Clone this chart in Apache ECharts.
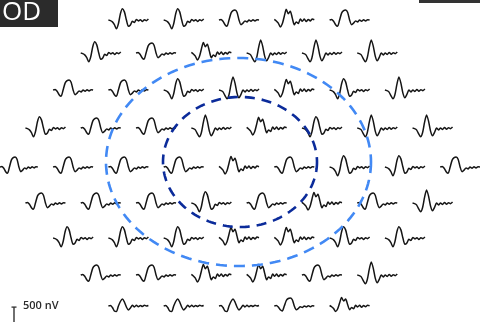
<!DOCTYPE html>
<html>
<head>
<meta charset="utf-8">
<script src="https://cdn.jsdelivr.net/npm/echarts@6/dist/echarts.min.js"></script>
<style>
  html, body { margin: 0; padding: 0; background: #fff; }
  #main { width: 480px; height: 322px; }
</style>
</head>
<body>
<div id="main"></div>
<script>
// 时间 (ms)
const times = [0, 4, 8, 12, 16, 20, 24, 28, 32, 36, 40, 44, 48, 52, 56, 60, 64, 68, 72, 76, 80];

// 波形 (nV)
const waveA = [0, -20, -60, -150, -280, -120, 200, 360, 260, 0, -200, -160, -40, -80, 20, -30, 10, -50, 10, -20, 30];
const waveB = [0, 20, -40, -150, -200, 0, 220, 300, 320, 250, 0, -150, -100, -30, -60, 0, -40, 10, -30, 10, 0];
const waveC = [0, -20, -60, -180, -280, -150, 180, 420, 220, -100, -250, -140, 0, -60, 0, -50, 20, -40, 10, -20, 30];
const waveD = [20, -30, -100, -220, -120, 120, 340, 200, 280, 60, -150, -60, -110, 30, -40, 30, -50, 20, -30, 30, 10];
const waveE = [0, 20, -60, -200, -220, 0, 180, 280, 160, -40, -160, -80, 30, -40, 30, -30, 20, -20, 30, 0, 20];
const waves = { A: waveA, B: waveB, C: waveC, D: waveD, E: waveE };

// 每行每个位置的波形
const rowShapes = [
  ['A', 'A', 'B', 'D', 'B'],
  ['A', 'B', 'D', 'C', 'C', 'C'],
  ['B', 'B', 'A', 'C', 'D', 'A', 'C'],
  ['A', 'B', 'B', 'C', 'D', 'A', 'C', 'C'],
  ['B', 'B', 'B', 'B', 'D', 'B', 'A', 'A', 'B'],
  ['B', 'B', 'B', 'A', 'B', 'D', 'B', 'C'],
  ['A', 'A', 'A', 'D', 'D', 'A', 'A'],
  ['B', 'B', 'D', 'D', 'B', 'C'],
  ['E', 'E', 'E', 'B', 'D']
];

// 标尺
const scaleBar = [0, 500];
const scaleLabel = '500 nV';
const eyeLabel = 'OD';

// 布局
const rowY = [20, 53, 90, 128, 167, 203, 238, 275, 310];
const centerX = 239;
const colStep = 55.3;
const traceW = 40;
const traceH = 40;
const yMin = -640, yMax = 640;

let chartDom = document.getElementById('main');
let myChart = echarts.init(chartDom);
let option;

let grids = [], xAxes = [], yAxes = [], series = [];

rowShapes.forEach(function (shapes, r) {
  let n = shapes.length;
  shapes.forEach(function (s, c) {
    let cx = centerX + (c - (n - 1) / 2) * colStep;
    let idx = grids.length;
    grids.push({ left: cx - traceW / 2, top: rowY[r] - traceH / 2, width: traceW, height: traceH });
    xAxes.push({ gridIndex: idx, type: 'value', min: 0, max: 80, show: false });
    yAxes.push({ gridIndex: idx, type: 'value', min: yMin, max: yMax, show: false });
    series.push({
      type: 'line',
      xAxisIndex: idx,
      yAxisIndex: idx,
      showSymbol: false,
      smooth: 0.25,
      lineStyle: { color: '#151515', width: 1.5 },
      data: times.map(function (t, i) { return [t, waves[s][i]]; })
    });
  });
});

// 标尺 grid (与波形同一纵向比例)
let sIdx = grids.length;
let barH = traceH * (scaleBar[1] - scaleBar[0]) / (yMax - yMin);
grids.push({ left: 9, top: 307, width: 10, height: barH });
xAxes.push({ gridIndex: sIdx, type: 'value', min: -5, max: 5, show: false });
yAxes.push({ gridIndex: sIdx, type: 'value', min: 0, max: 500, show: false });
series.push({
  type: 'line', xAxisIndex: sIdx, yAxisIndex: sIdx, showSymbol: false,
  lineStyle: { color: '#333', width: 1.4 },
  data: scaleBar.map(function (v) { return [0, v]; })
});
series.push({
  type: 'line', xAxisIndex: sIdx, yAxisIndex: sIdx, showSymbol: false,
  lineStyle: { color: '#333', width: 1.4 },
  data: [[-2.5, scaleBar[1]], [2.5, scaleBar[1]]]
});

function ellipsePoints(cx, cy, rx, ry) {
  let pts = [];
  for (let i = 0; i <= 180; i++) {
    let a = i / 180 * Math.PI * 2;
    pts.push([cx + rx * Math.cos(a), cy + ry * Math.sin(a)]);
  }
  return pts;
}

option = {
  backgroundColor: '#fff',
  animation: false,
  grid: grids,
  xAxis: xAxes,
  yAxis: yAxes,
  series: series,
  graphic: [
    { type: 'rect', shape: { x: 0, y: 0, width: 58, height: 27 }, style: { fill: '#2b2b2b' } },
    { type: 'rect', shape: { x: 419, y: 0, width: 61, height: 3 }, style: { fill: '#333' } },
    {
      type: 'text', x: 2, y: 0,
      style: { text: eyeLabel, fill: '#fff', font: '26px "Open Sans"', verticalAlign: 'top' }
    },
    {
      type: 'text', x: 23, y: 306,
      style: { text: scaleLabel, fill: '#2a2a2a', font: '600 11px "Open Sans"', verticalAlign: 'middle' }
    },
    {
      type: 'polyline', z: 100,
      shape: { points: ellipsePoints(238.5, 162, 132.5, 104) },
      style: { stroke: '#4289f4', lineWidth: 2.6, lineDash: [11, 7], fill: null }
    },
    {
      type: 'polyline', z: 100,
      shape: { points: ellipsePoints(240, 162, 77, 65) },
      style: { stroke: '#0b2b9a', lineWidth: 2.6, lineDash: [10, 7], fill: null }
    }
  ]
};

option && myChart.setOption(option);
window.addEventListener('resize', () => {
  myChart.resize();
});
</script>
</body>
</html>
